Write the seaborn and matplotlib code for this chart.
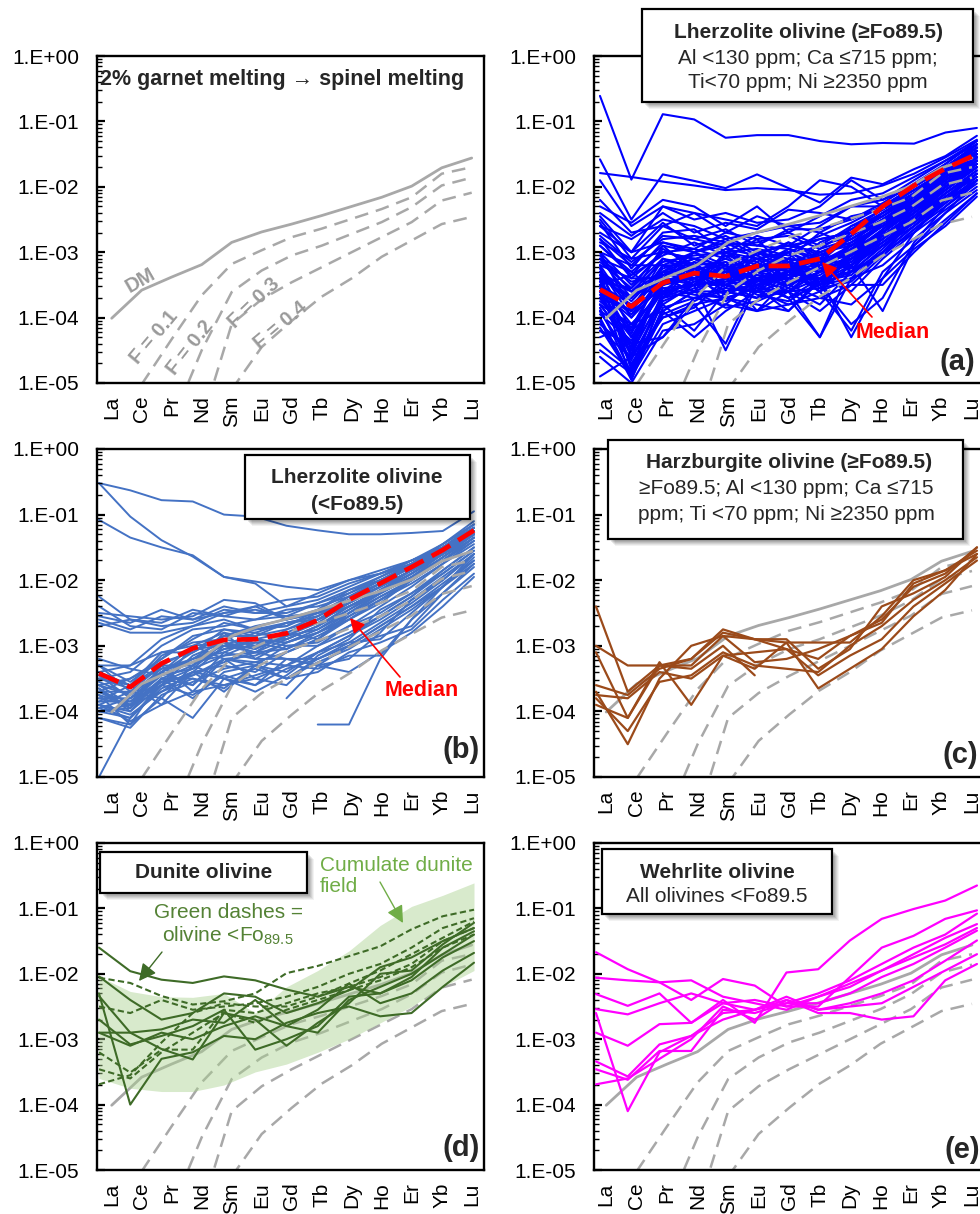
import numpy as np
import pandas as pd
import matplotlib
matplotlib.use("Agg")
import matplotlib.pyplot as plt
import seaborn as sns
from matplotlib.patches import Rectangle, FancyArrowPatch
from matplotlib.ticker import LogLocator, FuncFormatter, NullFormatter

sns.set_theme(style="white")
plt.rcParams["font.family"] = ["Liberation Sans", "DejaVu Sans"]
plt.rcParams["mathtext.fontset"] = "custom"
plt.rcParams["mathtext.rm"] = "Liberation Sans"
plt.rcParams["mathtext.bf"] = "Liberation Sans:bold"

nan = np.nan

# ---------------------------------------------------------------- data
ELEMENTS = ["La", "Ce", "Pr", "Nd", "Sm", "Eu", "Gd", "Tb", "Dy", "Ho", "Er", "Yb", "Lu"]

# Melting model: olivine REE (log10, normalised) for depleted mantle and residues
DM_LOG = [-4.01, -3.58, -3.38, -3.19, -2.85, -2.69, -2.57, -2.44, -2.30, -2.16, -1.99, -1.71, -1.56]
F01_LOG = [nan, -5.02, -4.33, -3.66, -3.18, -2.97, -2.77, -2.64, -2.49, -2.34, -2.16, -1.80, -1.70]
F02_LOG = [nan, nan, -5.60, -4.50, -3.61, -3.28, -3.05, -2.90, -2.72, -2.54, -2.31, -1.98, -1.86]
F03_LOG = [nan, nan, nan, -5.60, -4.10, -3.72, -3.46, -3.23, -3.00, -2.77, -2.54, -2.21, -2.09]
F04_LOG = [nan, nan, nan, nan, -5.10, -4.45, -4.05, -3.68, -3.40, -3.07, -2.82, -2.57, -2.46]
MELT_CURVES = {"F = 0.1": F01_LOG, "F = 0.2": F02_LOG, "F = 0.3": F03_LOG, "F = 0.4": F04_LOG}

# (a) lherzolite olivine >= Fo89.5 (log10)
LHERZ_HI = [
    [-0.61, -1.89, -0.89, -0.97, -1.25, -1.21, -1.21, -1.30, -1.35, -1.33, -1.34, -1.17, -1.10],
    [-1.58, -2.50, -1.81, -1.91, -2.02, -1.81, -2.02, -2.24, -1.86, -1.96, -1.73, -1.53, -1.22],
    [-1.79, -1.85, -1.92, -1.98, -2.05, -2.02, -2.05, -2.12, -2.10, -1.98, -1.80, -1.55, -1.28],
    [-1.90, -2.60, -2.30, -2.50, -2.40, -2.55, -2.50, -2.30, -1.90, -2.20, -1.90, -1.60, -1.35],
    [-2.30, -2.55, -2.20, -2.30, -2.60, -2.30, -2.70, -2.45, -2.20, -2.10, -1.85, -1.60, -1.30],
    [-2.40, -2.75, -2.40, -2.70, -2.55, -2.65, -2.35, -2.40, -2.50, -2.30, -2.00, -1.70, -1.40],
    [-2.60, -2.80, -2.50, -2.60, -2.80, -2.70, -2.60, -2.70, -2.45, -2.35, -2.05, -1.75, -1.45],
    [-2.70, -3.00, -2.55, -2.90, -2.75, -3.00, -2.90, -2.60, -2.30, -2.20, -2.00, -1.70, -1.35],
    [-2.80, -3.20, -2.75, -2.80, -2.90, -2.85, -2.70, -2.90, -2.60, -2.35, -2.10, -1.80, -1.50],
    [-2.90, -3.30, -2.90, -3.00, -2.85, -3.10, -3.00, -2.80, -2.70, -2.40, -2.15, -1.85, -1.55],
    [-3.00, -3.50, -3.00, -3.10, -3.20, -3.00, -3.15, -3.00, -2.80, -2.50, -2.20, -1.90, -1.60],
    [-3.10, -3.70, -3.10, -3.30, -3.10, -3.30, -3.10, -3.20, -2.90, -2.60, -2.30, -1.95, -1.60],
    [-3.20, -3.90, -3.20, -3.20, -3.40, -3.20, -3.30, -3.10, -3.00, -2.55, -2.25, -1.85, -1.55],
    [-3.30, -4.20, -3.30, -3.40, -3.30, -3.50, -3.20, -3.30, -3.05, -2.70, -2.35, -2.00, -1.70],
    [-3.35, -4.50, -3.45, -3.30, -3.50, -3.40, -3.50, -3.30, -3.20, -2.75, -2.40, -2.05, -1.70],
    [-3.40, -4.80, -3.60, -3.50, -3.40, -3.30, -3.40, -3.50, -3.10, -2.80, -2.45, -2.10, -1.75],
    [-3.50, -4.95, -3.70, -3.60, -3.70, -3.55, -3.60, -3.40, -3.30, -2.90, -2.50, -2.10, -1.80],
    [-3.60, -4.60, -3.80, -3.50, -3.50, -3.60, -3.30, -3.60, -3.20, -2.85, -2.55, -2.15, -1.85],
    [-3.70, -4.30, -3.60, -3.70, -3.80, -3.40, -3.70, -3.50, -3.40, -3.00, -2.60, -2.20, -1.90],
    [-3.80, -4.10, -3.90, -3.60, -3.60, -3.70, -3.50, -3.70, -3.50, -3.05, -2.65, -2.30, -1.95],
    [-3.90, -4.70, -4.00, -3.80, -4.40, -3.40, -3.60, -3.30, -3.20, -2.90, -2.55, -2.20, -1.90],
    [-4.00, -4.90, -4.10, -3.90, -3.70, -3.80, -3.90, -3.40, -3.60, -3.10, -2.70, -2.35, -2.00],
    [-4.20, -4.40, -4.30, -3.70, -3.60, -3.50, -3.70, -4.30, -3.40, -3.20, -2.80, -2.40, -2.05],
    [-4.40, -4.80, -3.90, -4.30, -3.90, -3.60, -3.80, -3.60, -4.20, -3.30, -2.90, -2.50, -2.10],
    [-4.60, -5.00, -4.20, -4.10, -3.80, -3.90, -3.60, -3.90, -3.50, -3.50, -3.00, -2.55, -2.10],
    [-4.90, -4.60, -4.30, -3.80, -3.70, -3.90, -3.80, -3.70, -3.80, -3.40, -2.95, -2.60, -2.15],
    [-3.20, -3.40, -3.00, -2.95, -3.10, -2.80, -3.30, -3.00, -3.30, -2.70, -2.30, -1.95, -1.60],
    [-3.40, -3.60, -3.30, -3.00, -3.20, -3.60, -3.10, -2.70, -2.90, -2.60, -2.25, -1.90, -1.55],
    [-3.50, -3.80, -3.40, -3.60, -3.00, -3.10, -3.00, -3.20, -3.00, -2.50, -2.20, -1.80, -1.50],
    [-3.00, -3.20, -3.20, -3.40, -3.30, -3.40, -3.60, -3.20, -2.60, -2.45, -2.15, -1.80, -1.45],
    [-2.50, -3.10, -3.00, -3.10, -3.00, -3.20, -3.20, -3.40, -3.10, -2.80, -2.40, -2.00, -1.65],
    [-3.60, -4.00, -3.50, -3.30, -3.60, -3.70, -3.30, -3.10, -2.70, -2.40, -2.10, -1.75, -1.40],
    [-3.30, -3.60, -3.60, -3.50, -3.20, -3.00, -2.90, -3.00, -2.90, -2.60, -2.30, -1.95, -1.60],
    [-3.70, -3.90, -3.30, -3.10, -3.30, -3.20, -3.50, -3.30, -2.90, -2.55, -2.30, -1.90, -1.55],
    [-3.10, -3.30, -3.70, -3.20, -3.50, -3.30, -3.20, -3.60, -3.00, -2.75, -2.45, -2.05, -1.70],
    [-3.80, -4.40, -3.50, -3.40, -3.30, -3.90, -3.40, -3.20, -3.10, -2.70, -2.35, -2.00, -1.65],
    [-2.80, -3.40, -3.40, -3.00, -2.90, -3.30, -2.95, -3.10, -3.20, -2.65, -2.20, -1.85, -1.50],
    [-3.45, -3.55, -3.10, -3.20, -3.40, -3.10, -3.40, -3.50, -3.30, -2.90, -2.60, -2.25, -1.90],
    [-4.10, -4.50, -3.70, -3.50, -3.45, -3.30, -3.00, -3.50, -4.10, -3.70, -2.85, -2.30, -1.90],
    [-3.90, -4.20, -3.80, -4.20, -3.60, -3.50, -3.70, -3.40, -3.30, -3.00, -2.70, -2.20, -1.80],
    [-2.20, -2.70, -2.60, -2.40, -2.50, -2.60, -2.30, -1.90, -2.00, -2.30, -2.00, -1.65, -1.30],
    [-3.30, -3.70, -2.90, -3.30, -3.50, -3.60, -3.60, -3.30, -2.95, -2.70, -2.25, -1.75, -1.35],
    [-3.60, -3.90, -3.55, -3.65, -3.70, -3.55, -3.90, -3.45, -3.05, -2.80, -2.35, -1.85, -1.45],
    [-4.30, -4.10, -3.60, -3.50, -3.20, -3.40, -3.30, -3.60, -3.40, -3.00, -2.50, -2.00, -1.60],
    [-2.45, -3.00, -2.30, -2.40, -2.70, -2.45, -2.60, -2.55, -2.30, -2.30, -2.05, -1.75, -1.40],
    [-3.05, -3.60, -3.15, -3.05, -3.00, -2.95, -3.05, -2.90, -2.75, -2.45, -2.15, -1.80, -1.45],
    [-3.25, -4.00, -3.35, -3.15, -3.25, -3.10, -3.20, -3.05, -2.85, -2.50, -2.20, -1.85, -1.50],
    [-3.45, -4.30, -3.50, -3.35, -3.15, -3.30, -3.25, -3.20, -2.95, -2.60, -2.25, -1.90, -1.55],
    [-3.65, -4.55, -3.65, -3.45, -3.35, -3.45, -3.35, -3.15, -3.05, -2.65, -2.30, -1.95, -1.60],
    [-3.85, -4.85, -3.75, -3.55, -3.45, -3.35, -3.50, -3.30, -3.10, -2.70, -2.35, -2.00, -1.65],
    [-4.05, -4.95, -3.85, -3.70, -3.55, -3.60, -3.45, -3.40, -3.15, -2.75, -2.40, -2.00, -1.65],
    [-2.90, -3.35, -3.05, -2.85, -3.05, -3.15, -2.85, -3.05, -2.80, -2.50, -2.15, -1.80, -1.45],
    [-3.15, -3.55, -2.95, -3.20, -2.95, -3.05, -3.30, -2.85, -2.65, -2.40, -2.10, -1.75, -1.40],
    [-3.35, -3.75, -3.25, -3.10, -3.35, -3.25, -3.00, -3.25, -2.95, -2.55, -2.25, -1.85, -1.50],
    [-3.55, -3.95, -3.45, -3.40, -3.05, -3.40, -3.35, -3.00, -2.85, -2.60, -2.30, -1.90, -1.55],
    [-3.75, -4.15, -3.30, -3.25, -3.50, -3.15, -3.45, -3.35, -3.05, -2.70, -2.35, -1.95, -1.60],
    [-3.95, -4.35, -3.55, -3.50, -3.25, -3.55, -3.15, -3.55, -3.20, -2.80, -2.40, -2.05, -1.70],
    [-2.75, -3.15, -2.80, -2.75, -2.85, -2.90, -2.95, -2.75, -2.55, -2.30, -2.00, -1.70, -1.35],
    [-2.60, -3.00, -2.85, -2.95, -2.70, -2.80, -2.75, -2.95, -2.65, -2.35, -2.05, -1.75, -1.40],
    [-3.10, -3.45, -3.35, -3.20, -3.15, -3.45, -3.10, -3.15, -2.90, -2.55, -2.20, -1.80, -1.45],
    [-3.30, -3.85, -3.20, -3.00, -3.30, -3.00, -3.25, -3.40, -3.00, -2.65, -2.30, -1.90, -1.55],
    [-3.50, -4.10, -3.60, -3.25, -3.20, -3.50, -3.35, -3.25, -3.15, -2.75, -2.40, -2.00, -1.65],
    [-3.70, -4.40, -3.40, -3.60, -3.40, -3.30, -3.55, -3.15, -3.25, -2.85, -2.45, -2.05, -1.70],
    [-3.90, -4.65, -3.70, -3.40, -3.65, -3.45, -3.30, -3.45, -3.35, -2.95, -2.50, -2.10, -1.75],
    [-4.15, -4.90, -3.95, -3.75, -3.50, -3.70, -3.60, -3.55, -3.45, -3.00, -2.60, -2.15, -1.80],
    [-3.00, -3.90, -3.10, -3.35, -3.25, -3.20, -2.95, -3.15, -2.75, -2.40, -2.10, -1.70, -1.35],
    [-3.20, -4.60, -3.40, -3.50, -3.00, -3.35, -3.40, -2.95, -2.80, -2.55, -2.15, -1.80, -1.45],
    [-3.40, -4.75, -3.65, -3.15, -3.55, -3.00, -3.10, -3.50, -3.10, -2.85, -2.50, -2.15, -1.80],
    [-3.60, -4.25, -3.20, -3.45, -3.30, -3.60, -3.15, -3.30, -2.85, -2.60, -2.25, -1.85, -1.50],
    [-3.80, -4.45, -3.45, -3.30, -3.75, -3.50, -3.40, -3.20, -3.00, -2.70, -2.30, -1.95, -1.60],
    [-2.55, -3.25, -2.70, -2.65, -3.00, -2.75, -2.90, -2.80, -2.70, -2.45, -2.10, -1.80, -1.45],
    [-2.85, -3.10, -2.60, -2.80, -2.65, -2.90, -2.65, -2.65, -2.50, -2.25, -1.95, -1.65, -1.30],
    [-3.50, -3.35, -2.85, -3.00, -2.80, -3.05, -2.85, -3.10, -2.75, -2.50, -2.20, -1.85, -1.50],
    [-4.20, -4.60, -4.00, -3.85, -3.40, -3.65, -3.75, -3.45, -3.20, -2.90, -2.55, -2.10, -1.75],
    [-4.50, -4.85, -3.90, -3.60, -3.85, -3.75, -3.55, -3.80, -3.30, -3.05, -2.65, -2.25, -1.85],
    [-3.40, -3.70, -3.30, -3.50, -4.50, -3.50, -3.30, -3.40, -4.30, -3.40, -2.70, -2.20, -1.80],
    [-3.70, -4.20, -3.50, -3.30, -3.60, -3.40, -3.60, -4.30, -3.20, -3.90, -2.90, -2.40, -1.90],
]
LHERZ_HI_MEDIAN = [-3.57, -3.83, -3.47, -3.32, -3.37, -3.21, -3.21, -3.10, -2.72, -2.30, -1.98, -1.72, -1.50]

# (b) lherzolite olivine < Fo89.5 (log10)
LHERZ_LO = [
    [-0.52, -0.63, -0.78, -0.80, -1.00, -1.03, -1.17, -1.24, -1.30, -1.30, -1.28, -1.25, -0.95],
    [-0.52, -1.03, -1.39, -1.64, -1.95, -2.02, -2.10, -2.15, -2.00, -1.90, -1.70, -1.50, -1.20],
    [-1.08, -1.35, -1.50, -1.62, -1.95, -2.05, -2.40, -2.20, -2.00, -1.85, -1.70, -1.50, -1.25],
    [-2.25, -2.60, -2.70, -2.65, -2.45, -2.50, -2.40, -2.30, -2.10, -1.90, -1.70, -1.50, -1.20],
    [-2.50, -2.55, -2.60, -2.55, -2.30, -2.35, -2.60, -2.45, -2.20, -1.95, -1.75, -1.50, -1.20],
    [-2.60, -2.75, -2.55, -2.60, -2.40, -2.50, -2.50, -2.35, -2.15, -2.00, -1.80, -1.55, -1.25],
    [-2.70, -2.60, -2.65, -2.45, -2.55, -2.60, -2.45, -2.40, -2.25, -2.05, -1.80, -1.55, -1.25],
    [-3.30, -3.30, -2.90, -2.70, -2.50, -2.40, -2.60, -2.50, -2.30, -2.10, -1.85, -1.60, -1.30],
    [-3.50, -3.40, -3.00, -2.75, -2.70, -2.60, -2.55, -2.35, -2.20, -2.00, -1.80, -1.55, -1.25],
    [-3.60, -3.50, -3.20, -2.90, -2.65, -2.75, -2.70, -2.50, -2.35, -2.10, -1.85, -1.60, -1.30],
    [-3.40, -3.60, -3.10, -3.00, -2.80, -2.90, -2.80, -2.60, -2.30, -2.05, -1.80, -1.50, -1.20],
    [-3.70, -3.70, -3.30, -3.05, -3.00, -2.80, -2.90, -2.70, -2.45, -2.15, -1.90, -1.60, -1.30],
    [-3.80, -3.80, -3.40, -3.20, -2.90, -3.00, -2.85, -2.75, -2.50, -2.20, -1.95, -1.65, -1.35],
    [-3.90, -4.00, -3.50, -3.60, -3.10, -3.20, -2.95, -2.80, -2.55, -2.25, -2.00, -1.70, -1.40],
    [-4.00, -4.10, -3.60, -3.40, -3.30, -3.40, -3.10, -2.90, -2.60, -2.30, -2.05, -1.75, -1.45],
    [-3.60, -3.90, -3.70, -3.50, -3.60, -3.50, -3.30, -3.00, -2.70, -2.50, -2.20, -1.90, -1.55],
    [-3.75, -4.20, -3.50, -3.80, -3.40, -3.30, -3.40, -3.10, -2.85, -2.60, -2.30, -2.00, -1.60],
    [-3.90, -3.70, -3.80, -3.30, -3.50, -3.60, -3.20, -3.20, -3.00, -2.70, -2.40, -2.05, -1.70],
    [-4.00, -3.90, -3.40, -3.60, -3.20, -3.50, -3.60, -3.15, -2.90, -2.45, -2.20, -1.85, -1.50],
    [-3.65, -3.95, -3.55, -3.45, -3.25, -3.10, -3.20, -3.30, -3.20, -2.80, -2.30, -1.95, -1.60],
    [-5.00, -4.10, -3.60, -3.40, -3.00, -3.10, -2.90, -2.70, -2.40, -2.15, -1.90, -1.60, -1.30],
    [-3.55, -3.75, -3.35, -3.25, -3.05, -2.90, -3.00, -2.95, -2.70, -2.40, -2.10, -1.75, -1.40],
    [-3.85, -3.85, -3.60, -3.15, -2.95, -3.05, -2.75, -2.60, -2.40, -2.20, -1.95, -1.70, -1.35],
    [-3.70, -3.95, -3.30, -3.70, -3.20, -3.30, -3.00, -3.00, -2.80, -2.55, -2.25, -1.90, -1.55],
    [nan, nan, nan, nan, nan, nan, nan, -4.20, -4.20, -3.20, -2.60, -2.10, -1.60],
    [nan, nan, nan, nan, nan, nan, -3.80, -3.30, -3.00, -2.70, -2.40, -2.10, -1.75],
    [-3.45, -3.60, -3.90, -3.40, -3.70, -3.30, -3.50, -3.20, -3.00, -2.85, -2.70, -2.20, -1.80],
    [-3.90, -4.05, -3.70, -3.40, -3.50, -3.70, -3.45, -3.10, -2.95, -2.90, -2.50, -2.10, -1.65],
    [-4.10, -4.20, -3.80, -4.10, -3.50, -3.35, -3.50, -3.40, -3.10, -2.95, -2.75, -2.30, -1.90],
    [-3.30, -3.70, -3.40, -3.00, -3.20, -3.25, -3.30, -3.35, -3.15, -3.15, -2.60, -2.20, -1.75],
    [-3.40, -3.30, -3.10, -3.10, -2.85, -2.70, -2.60, -2.50, -2.25, -2.00, -1.75, -1.45, -1.15],
    [-3.70, -3.50, -3.25, -3.10, -2.75, -2.85, -2.65, -2.55, -2.30, -2.05, -1.75, -1.50, -1.20],
    [-3.95, -3.80, -3.45, -3.25, -3.15, -2.95, -3.05, -2.85, -2.60, -2.35, -2.00, -1.65, -1.30],
    [-3.20, -3.35, -3.45, -3.35, -2.95, -3.10, -2.80, -2.90, -2.50, -2.25, -2.00, -1.70, -1.35],
    [-2.40, -2.70, -2.75, -2.50, -2.55, -2.40, -2.30, -2.25, -2.05, -1.90, -1.75, -1.50, -1.20],
    [-3.50, -3.60, -3.30, -3.30, -2.80, -3.20, -3.20, -3.30, -3.40, -3.10, -2.80, -2.40, -1.95],
    [-3.60, -3.75, -3.40, -3.10, -2.85, -2.85, -2.75, -2.55, -2.25, -2.00, -1.75, -1.45, -1.15],
    [-3.80, -3.90, -3.50, -3.30, -3.05, -3.00, -2.85, -2.65, -2.35, -2.10, -1.85, -1.55, -1.25],
    [-3.50, -3.65, -3.15, -2.95, -2.90, -2.75, -2.70, -2.45, -2.15, -1.95, -1.70, -1.45, -1.10],
    [-3.95, -4.10, -3.65, -3.45, -3.20, -3.15, -2.95, -2.80, -2.50, -2.20, -1.95, -1.60, -1.30],
    [-3.70, -3.85, -3.45, -3.20, -3.00, -2.95, -2.90, -2.70, -2.40, -2.15, -1.85, -1.55, -1.20],
    [-3.30, -3.55, -3.20, -2.85, -2.75, -2.80, -2.65, -2.55, -2.30, -2.05, -1.80, -1.50, -1.15],
    [-4.10, -4.25, -3.75, -3.55, -3.35, -3.25, -3.10, -2.90, -2.55, -2.30, -2.00, -1.70, -1.35],
    [-3.85, -3.60, -3.35, -3.20, -3.10, -2.90, -2.95, -2.75, -2.45, -2.20, -1.90, -1.60, -1.25],
    [-3.45, -3.80, -3.55, -3.35, -3.15, -3.10, -3.05, -2.80, -2.60, -2.30, -2.00, -1.65, -1.30],
    [-3.65, -4.00, -3.60, -3.00, -2.95, -3.05, -2.85, -2.60, -2.35, -2.10, -1.85, -1.55, -1.20],
    [-2.55, -2.65, -2.45, -2.60, -2.50, -2.45, -2.55, -2.50, -2.30, -2.10, -1.85, -1.60, -1.30],
    [-2.65, -2.80, -2.80, -2.70, -2.60, -2.75, -2.65, -2.60, -2.40, -2.15, -1.90, -1.60, -1.25],
    [-3.90, -4.15, -3.90, -3.70, -3.60, -3.45, -3.30, -3.10, -2.85, -2.55, -2.25, -1.85, -1.50],
    [-3.75, -3.90, -3.60, -3.75, -3.45, -3.60, -3.35, -3.20, -2.95, -2.65, -2.35, -2.00, -1.60],
    [-4.00, -3.95, -3.50, -3.50, -3.65, -3.30, -3.50, -3.25, -3.05, -2.75, -2.45, -2.10, -1.70],
]
LHERZ_LO_MEDIAN = [-3.42, -3.63, -3.27, -3.04, -2.91, -2.90, -2.81, -2.61, -2.30, -2.05, -1.80, -1.54, -1.24]

# (c) harzburgite olivine (log10)
HARZ = [
    [-2.40, -3.70, -3.30, -3.20, -2.80, -2.90, -2.90, -3.35, -3.05, -2.40, -2.20, -1.95, -1.50],
    [-3.00, -3.30, -3.30, -3.30, -2.85, -2.90, -2.95, -2.95, -2.95, -2.55, -2.00, -1.85, -1.60],
    [-3.70, -4.50, -3.50, -3.00, -2.85, -3.25, -3.20, -3.05, -2.85, -2.65, -2.05, -1.85, -1.55],
    [-3.75, -3.80, -3.40, -3.50, -3.15, -3.35, -2.95, -3.65, -3.35, -3.05, -2.55, -2.15, -1.60],
    [-3.80, -4.30, -3.55, -3.45, -3.10, -3.30, -3.35, -3.40, -3.00, -2.70, -2.30, -2.00, -1.65],
    [-3.10, -4.10, -3.25, -3.90, -3.15, -3.10, -3.05, -3.45, -3.15, -2.90, -2.40, -2.05, -1.70],
    [-3.60, -3.75, -3.35, -3.20, -2.75, -2.90, -3.05, -3.20, -2.85, -2.60, -2.10, -1.90, -1.50],
    [-3.90, -4.10, -3.30, -3.35, -3.00, -3.45, nan, nan, nan, nan, nan, nan, nan],
]

# (d) dunite olivine (log10); solid >= Fo89.5, dashed < Fo89.5
DUNITE_HI = [
    [-1.60, -1.96, -2.09, -2.14, -2.04, -2.10, -2.24, -2.35, -2.20, -2.30, -2.05, -1.60, -1.35],
    [-2.04, -2.40, -2.70, -2.60, -2.30, -2.35, -2.60, -2.45, -2.25, -1.90, -1.75, -1.50, -1.30],
    [-2.34, -2.90, -2.85, -2.70, -2.75, -2.40, -2.80, -2.55, -2.15, -2.45, -2.30, -1.95, -1.68],
    [-2.70, -3.08, -2.95, -2.80, -2.55, -3.16, -3.00, -2.80, -2.35, -2.30, -2.10, -1.75, -1.50],
    [-2.90, -2.90, -3.15, -3.31, -2.60, -2.70, -3.10, -2.75, -2.45, -2.00, -1.95, -1.55, -1.22],
    [-2.30, -4.00, -3.30, -3.20, -2.95, -3.00, -2.75, -2.60, -2.50, -2.65, -2.60, -2.20, -1.83],
    [-2.90, -3.10, -2.90, -3.00, -2.80, -2.65, -2.80, -2.90, -2.40, -2.20, -2.00, -1.70, -1.40],
]
DUNITE_LO = [
    [-2.06, -2.14, -2.34, -2.47, -2.42, -2.30, -1.99, -1.88, -1.73, -1.58, -1.32, -1.12, -1.02],
    [-2.50, -2.60, -2.40, -2.55, -2.50, -2.45, -2.35, -2.20, -2.00, -1.85, -1.60, -1.30, -1.15],
    [-3.20, -3.51, -3.16, -3.16, -2.55, -2.60, -2.45, -2.30, -2.20, -2.05, -1.85, -1.50, -1.30],
    [-3.46, -3.60, -3.20, -2.90, -2.60, -2.75, -2.55, -2.40, -2.25, -2.10, -1.90, -1.60, -1.40],
    [-3.69, -3.55, -3.05, -2.60, -2.45, -2.50, -2.50, -2.35, -2.15, -1.95, -1.70, -1.45, -1.20],
]
CUMULATE_UPPER = [-2.04, -2.27, -2.35, -2.36, -2.30, -2.60, -2.20, -1.95, -1.65, -1.26, -0.97, -0.80, -0.61]
CUMULATE_LOWER = [-3.60, -3.75, -3.80, -3.80, -3.70, -3.50, -3.38, -3.20, -3.00, -2.75, -2.50, -2.20, -1.95]

# (e) wehrlite olivine (log10)
WEHRLITE = [
    [-1.67, -1.93, -2.13, -2.10, -2.35, -2.45, -2.55, -2.35, -2.15, -1.95, -1.75, -1.55, -1.30],
    [-2.06, -2.10, -2.13, -2.40, -2.08, -2.18, -2.50, -2.50, -2.05, -1.60, -1.42, -1.16, -1.03],
    [-2.31, -2.49, -2.30, -2.75, -2.40, -2.75, -1.98, -1.93, -1.49, -1.16, -1.01, -0.88, -0.65],
    [-2.54, -2.62, -2.45, -2.30, -2.45, -2.40, -2.50, -2.35, -2.20, -1.95, -1.70, -1.45, -1.24],
    [-2.90, -3.10, -2.77, -2.75, -2.45, -2.55, -2.35, -2.55, -2.45, -2.30, -2.10, -1.80, -1.49],
    [-3.34, -3.57, -3.08, -2.95, -2.60, -2.55, -2.45, -2.30, -2.10, -1.85, -1.60, -1.40, -1.08],
    [-3.46, -3.62, -3.18, -3.18, -2.55, -2.60, -2.45, -2.45, -2.30, -2.05, -1.85, -1.60, -1.34],
    [-2.60, -4.10, -3.20, -2.95, -2.70, -2.55, -2.40, -2.55, -2.50, -2.45, -2.20, -1.95, -1.70],
    [-3.69, -3.60, -3.30, -3.00, -2.50, -2.70, -2.40, -2.60, -2.60, -2.70, -2.65, -2.10, -1.85],
]

# ---------------------------------------------------------------- helpers
W, H = 980, 1214
GREY = "#A8A8A8"
GREY_TXT = "#9A9A9A"
FS = 15


def fx(px):
    return px / W


def fy(py):
    return 1 - py / H


def long_frame(rows):
    recs = []
    for i, row in enumerate(rows):
        for p, v in enumerate(row):
            if not np.isnan(v):
                recs.append((i, p, 10.0 ** v))
    return pd.DataFrame(recs, columns=["sample", "pos", "conc"])


fig = plt.figure(figsize=(9.8, 12.14), dpi=100)
fig.patch.set_facecolor("white")

LEFT_COL = (97, 484)
RIGHT_COL = (594, 986)
ROWS = [(56, 383), (449, 777), (843, 1170)]


def make_panel(col, row, data_lim=None, model_on_top=True, tag=""):
    (x0, x1), (y0, y1) = col, row
    rect = [fx(x0), fy(y1), (x1 - x0) / W, (y1 - y0) / H]
    ax = fig.add_axes(rect, label="frame" + tag)
    ax.set_yscale("log")
    ax.set_ylim(1e-5, 1)
    if col == LEFT_COL:
        ax.set_xlim(-0.49, 12.41)
    else:
        ax.set_xlim(-0.40, 12.46)

    # melting model curves
    dm = long_frame([DM_LOG])
    sns.lineplot(data=dm, x="pos", y="conc", color=GREY, linewidth=2.0, ax=ax, legend=False)
    fdf = long_frame(list(MELT_CURVES.values()))
    sns.lineplot(data=fdf, x="pos", y="conc", units="sample", estimator=None, color=GREY,
                 linewidth=1.8, linestyle=(0, (5.5, 3.2)), ax=ax, legend=False)

    ax.set_xticks(range(len(ELEMENTS)))
    ax.set_xticklabels(ELEMENTS, rotation=90)
    ax.yaxis.set_major_locator(LogLocator(base=10, numticks=10))
    ax.yaxis.set_major_formatter(FuncFormatter(lambda v, p: "1.E{:+03d}".format(int(round(np.log10(v))))))
    ax.yaxis.set_minor_locator(LogLocator(base=10, subs=np.arange(2, 10), numticks=30))
    ax.yaxis.set_minor_formatter(NullFormatter())
    ax.tick_params(axis="y", which="major", direction="in", length=6, width=1.6,
                   left=True, right=False, pad=13, labelsize=FS, labelcolor="black", color="black")
    ax.tick_params(axis="y", which="minor", direction="in", length=3.5, width=1.0,
                   left=True, right=False, color="black")
    ax.tick_params(axis="x", which="both", length=0, pad=9, labelsize=FS, labelcolor="black")
    ax.set_xlabel("")
    ax.set_ylabel("")
    for s in ax.spines.values():
        s.set_visible(True)
        s.set_color("black")
        s.set_linewidth(1.7)

    axd = None
    if data_lim is not None:
        axd = fig.add_axes(rect, sharey=ax, label="data" + tag)
        axd.set_xlim(*data_lim)
        axd.axis("off")
        if model_on_top:
            ax.set_zorder(2)
            axd.set_zorder(1)
            ax.patch.set_visible(False)
        else:
            ax.set_zorder(1)
            axd.set_zorder(2)
    return ax, axd


def draw_lines(axd, rows, color, lw=1.4, ls="-"):
    df = long_frame(rows)
    sns.lineplot(data=df, x="pos", y="conc", units="sample", estimator=None, color=color,
                 linewidth=lw, linestyle=ls, ax=axd, legend=False)
    axd.set_xlabel("")
    axd.set_ylabel("")


def median_line(ax_frame, ax_data, values, lim, tag):
    axm = fig.add_axes(ax_data.get_position(), sharey=ax_frame, label="median" + tag)
    axm.set_xlim(*lim)
    axm.axis("off")
    axm.set_zorder(3)
    sns.lineplot(data=long_frame([values]), x="pos", y="conc", color="#FF0000", linewidth=3.4,
                 linestyle=(0, (4.5, 2.0)), ax=axm, legend=False)


def label_box(x0, y0, x1, y1):
    for k, a in [(7, 0.05), (6, 0.06), (5, 0.07), (4, 0.08), (3, 0.09)]:
        fig.add_artist(Rectangle((fx(x0 + k), fy(y1 + k)), (x1 - x0) / W, (y1 - y0) / H,
                                 transform=fig.transFigure, fc="black", ec="none", alpha=a, zorder=8))
    fig.add_artist(Rectangle((fx(x0), fy(y1)), (x1 - x0) / W, (y1 - y0) / H,
                             transform=fig.transFigure, fc="white", ec="black", lw=1.6, zorder=9))


def ftext(x, y, s, **kw):
    kw.setdefault("ha", "center")
    kw.setdefault("va", "center")
    kw.setdefault("zorder", 10)
    kw.setdefault("fontsize", FS)
    return fig.text(fx(x), fy(y), s, **kw)


def arrow(xa, ya, xb, yb, color, lw=1.2, scale=22):
    fig.add_artist(FancyArrowPatch((fx(xa), fy(ya)), (fx(xb), fy(yb)), transform=fig.transFigure,
                                   arrowstyle="-|>", mutation_scale=scale, lw=lw, color=color,
                                   shrinkA=0, shrinkB=0, zorder=10))


LEFT_DATA = (-0.064, 12.32)
RIGHT_DATA = (-0.063, 12.285)
A_DATA = (-0.19, 12.29)

# ---------------------------------------------------------------- model panel
ax0, _ = make_panel(LEFT_COL, ROWS[0], tag="m")
ftext(100, 80, "2% garnet melting \u2192 spinel melting", ha="left", fontsize=15.5, fontweight="bold")
for s, (x, y, r) in {"DM": (140, 280, 30), "F = 0.1": (154, 337, 50), "F = 0.2": (190, 348, 52),
                     "F = 0.3": (254, 303, 44), "F = 0.4": (281, 325, 40)}.items():
    ftext(x, y, s, rotation=r, color=GREY_TXT, fontsize=14.5, fontweight="bold")

# ---------------------------------------------------------------- (a)
axa, axad = make_panel(RIGHT_COL, ROWS[0], A_DATA, model_on_top=True, tag="a")
draw_lines(axad, LHERZ_HI, "#0000FF", lw=1.5)
median_line(axa, axad, LHERZ_HI_MEDIAN, A_DATA, "a")
label_box(642, 9, 973, 102)
ftext(808, 33, "Lherzolite olivine (\u2265Fo89.5)", fontweight="bold")
ftext(808, 58, "Al <130 ppm; Ca \u2264715 ppm;")
ftext(808, 83, "Ti<70 ppm; Ni \u22652350 ppm")
ftext(893, 333, "Median", color="#FF0000", fontsize=15.5, fontweight="bold")
arrow(872, 317, 822, 262, "#FF0000")
ftext(975, 362, "(a)", ha="right", fontsize=21, fontweight="bold")

# ---------------------------------------------------------------- (b)
axb, axbd = make_panel(LEFT_COL, ROWS[1], LEFT_DATA, model_on_top=True, tag="b")
draw_lines(axbd, LHERZ_LO, "#4472C4", lw=1.4)
median_line(axb, axbd, LHERZ_LO_MEDIAN, LEFT_DATA, "b")
label_box(245, 455, 470, 519)
ftext(357, 478, "Lherzolite olivine", fontweight="bold")
ftext(357, 505, "(<Fo89.5)", fontweight="bold")
ftext(422, 690, "Median", color="#FF0000", fontsize=15.5, fontweight="bold")
arrow(400, 677, 350, 618, "#FF0000")
ftext(480, 750, "(b)", ha="right", fontsize=21, fontweight="bold")

# ---------------------------------------------------------------- (c)
axc, axcd = make_panel(RIGHT_COL, ROWS[1], RIGHT_DATA, model_on_top=False, tag="c")
draw_lines(axcd, HARZ, "#9B4A1A", lw=1.6)
label_box(608, 440, 963, 539)
ftext(789, 463, "Harzburgite olivine (\u2265Fo89.5)", fontweight="bold")
ftext(786, 488, "\u2265Fo89.5; Al <130 ppm; Ca \u2264715")
ftext(786, 514, "ppm; Ti <70 ppm; Ni \u22652350 ppm")
ftext(978, 755, "(c)", ha="right", fontsize=21, fontweight="bold")

# ---------------------------------------------------------------- (d)
axdn, axdd = make_panel(LEFT_COL, ROWS[2], LEFT_DATA, model_on_top=False, tag="d")
axdd.fill_between(range(len(ELEMENTS)), 10.0 ** np.array(CUMULATE_LOWER),
                  10.0 ** np.array(CUMULATE_UPPER), color="#A9D18E", alpha=0.45, lw=0, zorder=0)
draw_lines(axdd, DUNITE_HI, "#3E6B27", lw=1.5)
draw_lines(axdd, DUNITE_LO, "#3E6B27", lw=1.5, ls=(0, (3.0, 1.6)))
label_box(100, 852, 307, 893)
ftext(204, 873, "Dunite olivine", fontweight="bold")
ftext(320, 856, "Cumulate dunite\nfield", ha="left", va="top", color="#70AD47", linespacing=1.1)
ftext(228, 925, "Green dashes =\nolivine <Fo$_{\\mathregular{89.5}}$", color="#548235", linespacing=1.15)
arrow(162, 952, 139, 981, "#3E6B27", lw=1.0, scale=26)
arrow(380, 882, 403, 923, "#70AD47", lw=1.0, scale=26)
ftext(480, 1148, "(d)", ha="right", fontsize=21, fontweight="bold")

# ---------------------------------------------------------------- (e)
axe, axed = make_panel(RIGHT_COL, ROWS[2], RIGHT_DATA, model_on_top=False, tag="e")
draw_lines(axed, WEHRLITE, "#FF00FF", lw=1.6)
label_box(602, 849, 832, 914)
ftext(717, 872, "Wehrlite olivine", fontweight="bold")
ftext(717, 897, "All olivines <Fo89.5")
ftext(980, 1150, "(e)", ha="right", fontsize=21, fontweight="bold")

fig.savefig("out.png", dpi=100, facecolor="white")
